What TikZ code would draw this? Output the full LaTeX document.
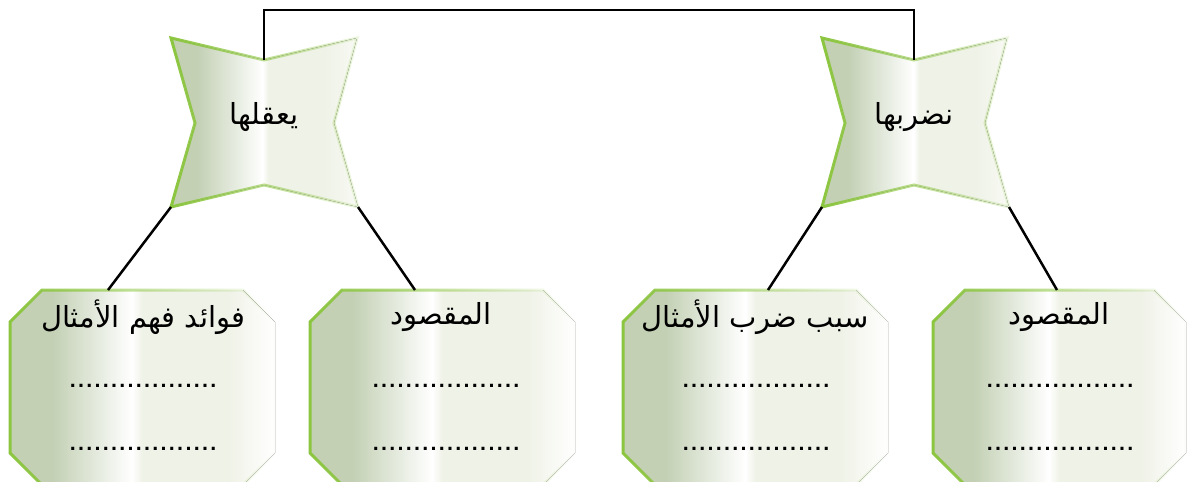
\documentclass[tikz,border=0pt]{standalone}
\usepackage{fontspec}
\usetikzlibrary{fadings}
\TeXXeTstate=1
\newfontfamily\arabicfont[Script=Arabic]{DejaVu Sans}
\newfontfamily\dotfont{DejaVu Sans Bold}
\definecolor{dk}{HTML}{C3D0B4}
\definecolor{lt}{HTML}{EFF2E7}
\definecolor{ltt}{HTML}{F8FAF4}
\definecolor{grn}{HTML}{8CC63F}
\pgfdeclarehorizontalshading{boxshade}{100bp}{color(0bp)=(dk); color(25bp)=(dk); color(33bp)=(dk); color(48bp)=(white); color(50bp)=(lt); color(66bp)=(lt); color(75bp)=(white); color(100bp)=(white)}
\pgfdeclarehorizontalshading{starshade}{100bp}{color(0bp)=(dk); color(25bp)=(dk); color(32bp)=(dk); color(49.5bp)=(white); color(51bp)=(lt); color(66bp)=(lt); color(75bp)=(ltt); color(100bp)=(ltt)}
\tikzfading[name=edgefade, left color=transparent!0, middle color=transparent!15, right color=transparent!85]
\tikzfading[name=boxedgefade, left color=transparent!0, middle color=transparent!25, right color=transparent!100]
\newcommand{\dotsrow}{\makebox[147pt][s]{.\hfill.\hfill.\hfill.\hfill.\hfill.\hfill.\hfill.\hfill.\hfill.\hfill.\hfill.\hfill.\hfill.\hfill.\hfill.\hfill.\hfill.}}
\tikzset{
  edge/.style={draw=grn, line width=3pt, line join=miter, path fading=edgefade},
  boxedge/.style={draw=grn, line width=3pt, line join=miter, path fading=boxedgefade},
  conn/.style={draw=black, line width=2.5pt},
  lbl/.style={font=\arabicfont\fontsize{29}{34}\selectfont, inner sep=0pt},
  dotrow/.style={font=\dotfont\fontsize{17}{20}\selectfont, inner sep=0pt, anchor=base},
}
\newcommand{\octbox}[3]{% #1 name, #2 left x, #3 right x
  \coordinate (#1a) at (#2,322);
  \coordinate (#1b) at (#2+32,290);
  \coordinate (#1c) at (#3-32,290);
  \coordinate (#1d) at (#3,322);
  \coordinate (#1e) at (#3,453);
  \coordinate (#1f) at (#3-32,485);
  \coordinate (#1g) at (#2+32,485);
  \coordinate (#1h) at (#2,453);
  \fill[shading=boxshade] (#1a)--(#1b)--(#1c)--(#1d)--(#1e)--(#1f)--(#1g)--(#1h)--cycle;
  \draw[boxedge] (#1a)--(#1b)--(#1c)--(#1d)--(#1e)--(#1f)--(#1g)--(#1h)--cycle;
}
\begin{document}
\begin{tikzpicture}[x=1pt,y=-1pt]
\useasboundingbox (0,0) rectangle (1187,482);
% stars
\coordinate (stl) at (171,38); \coordinate (std) at (264,60); \coordinate (str) at (357,38);
\coordinate (srm) at (334,123); \coordinate (sbr) at (358,207); \coordinate (sbd) at (264,185);
\coordinate (sbl) at (171,207); \coordinate (slm) at (195,123);
\fill[shading=starshade] (stl)--(std)--(str)--(srm)--(sbr)--(sbd)--(sbl)--(slm)--cycle;
\draw[edge] (stl)--(std)--(str)--(srm)--(sbr)--(sbd)--(sbl)--(slm)--cycle;
\node[lbl] (s1) at (264,117) {\beginR يعقلها\endR};

\coordinate (ttl) at (822,38); \coordinate (ttd) at (914,60); \coordinate (ttr) at (1007,38);
\coordinate (trm) at (985,123); \coordinate (tbr) at (1009,207); \coordinate (tbd) at (914,185);
\coordinate (tbl) at (822,207); \coordinate (tlm) at (845,123);
\fill[shading=starshade] (ttl)--(ttd)--(ttr)--(trm)--(tbr)--(tbd)--(tbl)--(tlm)--cycle;
\draw[edge] (ttl)--(ttd)--(ttr)--(trm)--(tbr)--(tbd)--(tbl)--(tlm)--cycle;
\node[lbl] (s2) at (914,117) {\beginR نضربها\endR};

% boxes
\octbox{p}{10}{275}
\octbox{q}{310}{575}
\octbox{r}{623}{888}
\octbox{u}{933}{1186}

\node[lbl] (pt) at (143,317) {\beginR فوائد فهم الأمثال\endR};
\node[lbl] (qt) at (441,317) {\beginR المقصود\endR};
\node[lbl] (rt) at (755,317) {\beginR سبب ضرب الأمثال\endR};
\node[lbl] (ut) at (1059,317) {\beginR المقصود\endR};

\node[dotrow] (pd1) at (143,387) {\dotsrow};
\node[dotrow] (pd2) at (143,450) {\dotsrow};
\node[dotrow] (qd1) at (446,387) {\dotsrow};
\node[dotrow] (qd2) at (446,450) {\dotsrow};
\node[dotrow] (rd1) at (756,387) {\dotsrow};
\node[dotrow] (rd2) at (756,450) {\dotsrow};
\node[dotrow] (ud1) at (1060,387) {\dotsrow};
\node[dotrow] (ud2) at (1060,450) {\dotsrow};

% connectors
\coordinate (top1) at (264,10);
\coordinate (top2) at (914,10);
\draw[conn] (std) -- (top1) -- (top2) -- (ttd);
\coordinate (pin) at (108,290);
\coordinate (qin) at (415,290);
\coordinate (rin) at (768,290);
\coordinate (uin) at (1057,290);
\draw[conn] (sbl) -- (pin);
\draw[conn] (sbr) -- (qin);
\draw[conn] (tbl) -- (rin);
\draw[conn] (tbr) -- (uin);
\end{tikzpicture}
\end{document}
